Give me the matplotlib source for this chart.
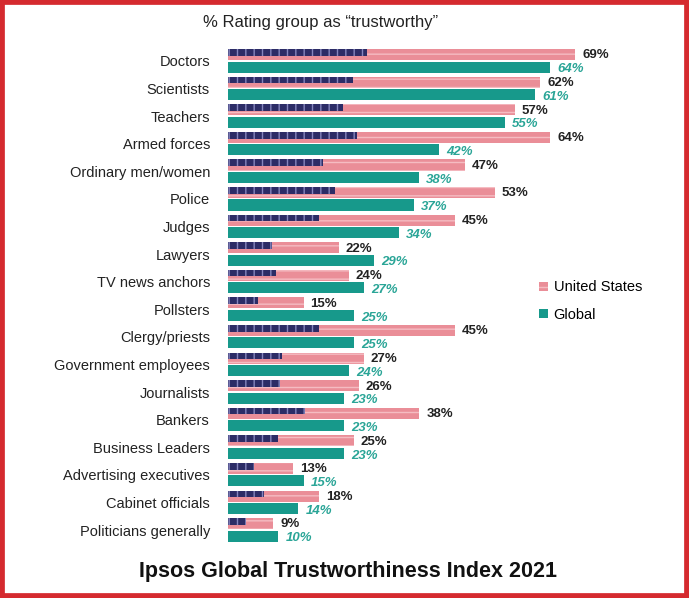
import matplotlib
matplotlib.use("Agg")
import matplotlib.pyplot as plt
from matplotlib.patches import Patch, Rectangle
import numpy as np

# data
groups = ["Doctors", "Scientists", "Teachers", "Armed forces", "Ordinary men/women",
          "Police", "Judges", "Lawyers", "TV news anchors", "Pollsters",
          "Clergy/priests", "Government employees", "Journalists", "Bankers",
          "Business Leaders", "Advertising executives", "Cabinet officials",
          "Politicians generally"]
us_values = [69, 62, 57, 64, 47, 53, 45, 22, 24, 15, 45, 27, 26, 38, 25, 13, 18, 9]
global_values = [64, 61, 55, 42, 38, 37, 34, 29, 27, 25, 25, 24, 23, 23, 23, 15, 14, 10]

PINK = "#ea8e98"
STRIPE = "#f5bcc2"
NAVY = "#2c2c66"
TEAL = "#17998b"
TEAL_TXT = "#2aa597"
RED = "#d52a2f"

plt.rcParams["font.family"] = ["Liberation Sans", "DejaVu Sans"]
plt.rcParams["hatch.linewidth"] = 1.0

fig = plt.figure(figsize=(6.89, 5.98), dpi=100)
ax = fig.add_axes([228 / 689, 1 - 543.8 / 598, 443 / 689, 496.6 / 598])

y = np.arange(len(groups))
us = np.array(us_values)
gl = np.array(global_values)

# US bars: pink with light stripes, navy "canton" with a row of light marks on the upper left
ax.barh(y - 0.23, us, height=0.4, color=PINK, edgecolor=STRIPE, hatch="--", linewidth=0)
ax.barh(y - 0.31, us * 0.4, height=0.24, color=NAVY, edgecolor="#8585bd", hatch="||", linewidth=0)
ax.barh(y + 0.22, gl, height=0.4, color=TEAL, linewidth=0)

for i in range(len(groups)):
    ax.text(us[i] + 1.4, y[i] - 0.2, f"{us[i]}%", ha="left", va="center",
            fontsize=9.5, fontweight="bold", color="#222222")
    ax.text(gl[i] + 1.4, y[i] + 0.3, f"{gl[i]}%", ha="left", va="center",
            fontsize=9.5, fontweight="bold", fontstyle="italic", color=TEAL_TXT)

ax.set_xlim(0, 88)
ax.set_ylim(len(groups) - 0.5, -0.5)
ax.set_yticks(y)
ax.set_yticklabels(groups, fontsize=10.5, color="#222222")
ax.tick_params(axis="y", length=0, pad=13)
ax.set_xticks([])
for s in ax.spines.values():
    s.set_visible(False)

handles = [Patch(facecolor=PINK, edgecolor=STRIPE, hatch="--", linewidth=0, label="United States"),
           Patch(facecolor=TEAL, linewidth=0, label="Global")]
fig.legend(handles=handles, loc="center left", bbox_to_anchor=(526 / 689, 1 - 301 / 598),
           frameon=False, fontsize=10.5, handlelength=0.6, handleheight=0.6,
           handletextpad=0.4, labelspacing=0.9)

fig.text(321 / 689, 1 - 22 / 598, "% Rating group as \u201ctrustworthy\u201d",
         ha="center", va="center", fontsize=12, color="#222222")
fig.text(348 / 689, 1 - 572 / 598, "Ipsos Global Trustworthiness Index 2021",
         ha="center", va="center", fontsize=15.5, fontweight="bold", color="#111111")

fig.patches.append(Rectangle((0, 0), 1, 1, transform=fig.transFigure, fill=False,
                             edgecolor=RED, linewidth=7, zorder=10))

fig.savefig("out.png", dpi=100)
